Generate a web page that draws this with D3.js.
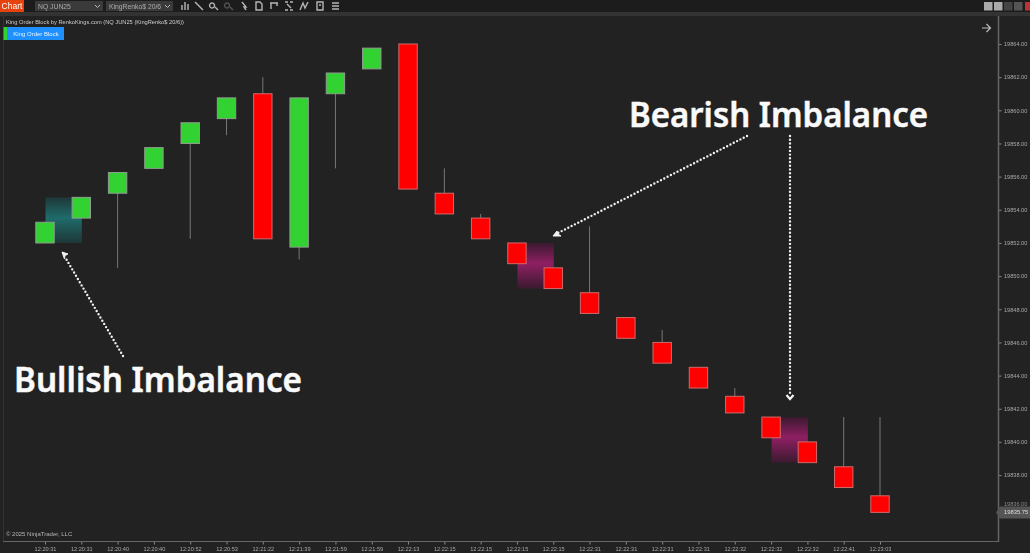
<!DOCTYPE html>
<html><head><meta charset="utf-8">
<script src="https://cdnjs.cloudflare.com/ajax/libs/d3/7.8.5/d3.min.js"></script>
<style>
html,body{margin:0;padding:0;background:#222;overflow:hidden}
svg{display:block}
.tiny{font-family:"Liberation Sans",Arial,sans-serif;filter:url(#soft)}
</style></head><body>
<svg id="c" width="1030" height="553"></svg>
<script>
const times=["12:20:31","12:20:31","12:20:40","12:20:40","12:20:52","12:20:53","12:21:22","12:21:39","12:21:59","12:21:59","12:22:13","12:22:15","12:22:15","12:22:15","12:22:15","12:22:31","12:22:31","12:22:31","12:22:31","12:22:32","12:22:32","12:22:32","12:22:41","12:23:03"];
const opens =[19852,19853.5,19855,19856.5,19858,19859.5,19861,19851.75,19861,19862.5,19864,19855,19853.5,19852,19850.5,19849,19847.5,19846,19844.5,19842.75,19841.5,19840,19838.5,19836.75];
const closes=[19853.25,19854.75,19856.25,19857.75,19859.25,19860.75,19852.25,19860.75,19862.25,19863.75,19855.25,19853.75,19852.25,19850.75,19849.25,19847.75,19846.25,19844.75,19843.25,19841.75,19840.25,19838.75,19837.25,19835.75];
const highs =[19853.25,19854.75,19856.25,19857.75,19859.25,19860.75,19862,19860.75,19862.25,19863.75,19864,19856.5,19853.75,19852,19850.5,19853,19847.5,19846.75,19844.5,19843.25,19841.5,19840,19841.5,19841.5];
const lows  =[19852,19853.5,19850.5,19856.5,19852.25,19858.5,19852.25,19851,19856.5,19862.5,19855.25,19853.75,19852.25,19850.75,19849.25,19847.75,19846.25,19844.75,19843.25,19841.75,19840.25,19838.75,19837.25,19835.75];
const priceTicks=[19864,19862,19860,19858,19856,19854,19852,19850,19848,19846,19844,19842,19840,19838];
const lastPrice=19835.75;
const zoneStart=[0,13,20], zoneEnd=[1,14,21], zoneHigh=[19854.75,19852,19841.5], zoneLow=[19852,19849.25,19838.75], zoneKind=["bull","bear","bear"];

const svg=d3.select("#c");
const defs=svg.append("defs");
defs.append("filter").attr("id","soft").attr("x","-5%").attr("y","-30%").attr("width","110%").attr("height","160%")
  .append("feGaussianBlur").attr("stdDeviation",0.3);
const grad=(id,edge,mid)=>{const g=defs.append("linearGradient").attr("id",id).attr("x1",0).attr("x2",0).attr("y1",0).attr("y2",1);
  [[0,edge],[.45,mid],[1,edge]].forEach(s=>g.append("stop").attr("offset",s[0]).attr("stop-color",s[1]));};
grad("bull","#1f3737","#1f6b6b"); grad("bear","#3a1a2f","#8f1f63");

svg.append("rect").attr("width",1030).attr("height",553).attr("fill","#222");
const x=d3.scalePoint().domain(d3.range(times.length)).range([45,880]);
const y=d3.scaleLinear().domain([19864,19836]).range([44,508.24]);

// toolbar
svg.append("rect").attr("width",1030).attr("height",12).attr("fill","#1c1c1c");
svg.append("rect").attr("y",12).attr("width",1030).attr("height",4).attr("fill","#333");
svg.append("rect").attr("width",24).attr("height",12).attr("fill","#e5420e");
svg.append("text").attr("class","tiny").attr("x",12).attr("y",9).attr("text-anchor","middle").attr("font-size",8.5).attr("fill","#fff").text("Chart");
[[35,103,"NQ JUN25"],[106,173,"KingRenko$ 20/6"]].forEach(d=>{
  svg.append("rect").attr("x",d[0]).attr("y",1).attr("width",d[1]-d[0]).attr("height",10).attr("fill","#3a3a3a");
  svg.append("text").attr("class","tiny").attr("x",d[0]+3).attr("y",8.5).attr("font-size",6.8).attr("fill","#aaa").text(d[2]);
  svg.append("path").attr("d",`M${d[1]-8} 5l2.5 2.5 2.5-2.5`).attr("fill","none").attr("stroke","#bbb").attr("stroke-width",1);
});
const iconX=[185,199,214,229,244,259,274,289,304,320,335];
const icons=["M-3 4V-1M0 4V-4M3 4V-2","M-4-4L4 4","M-2-3a2.5 2.5 0 1 0 .1 0M1 1L4 4","M-2-3a2.5 2.5 0 1 0 .1 0M1 1L4 4","M-2-4L2 1L0 1L2 4","M-3-4H1L3-2V4H-3Z","M-4-3H4M-3-3V3M3-3V0","M-4-4H-1M1-4H4M-4 4H-1M1 4H4M-2-2L2 2","M-4 4L-1-3L1 2L4-4","M-3-4H3V4H-3ZM-1-1H1","M-3-3H4M-3 0H4M-3 3H4"];
iconX.forEach((px,i)=>svg.append("path").attr("transform",`translate(${px},6)`).attr("d",icons[i]).attr("fill","none")
  .attr("stroke",i===3?"#555":"#b5b5b5").attr("stroke-width",1.4));
[[984,"#aaa"],[994,"#aaa"],[1004,"#444"],[1014,"#555"],[1025,"#b33"]].forEach(d=>
  svg.append("rect").attr("x",d[0]).attr("y",2).attr("width",8.5).attr("height",8.5).attr("fill",d[1]));

// frame
svg.append("rect").attr("x",3).attr("y",16).attr("width",1).attr("height",526).attr("fill","#333");

// imbalance zones
svg.append("g").selectAll("rect").data(zoneStart).join("rect")
  .attr("x",(d,i)=>x(d)+.5).attr("width",(d,i)=>x(zoneEnd[i])-x(d))
  .attr("y",(d,i)=>y(zoneHigh[i])).attr("height",(d,i)=>y(zoneLow[i])-y(zoneHigh[i]))
  .attr("fill",(d,i)=>`url(#${zoneKind[i]})`);

// candles
const idx=d3.range(times.length);
svg.append("g").selectAll("line").data(idx).join("line")
  .attr("x1",i=>x(i)).attr("x2",i=>x(i)).attr("y1",i=>y(highs[i])).attr("y2",i=>y(lows[i]))
  .attr("stroke","#777").attr("stroke-width",1);
svg.append("g").selectAll("rect").data(idx).join("rect")
  .attr("x",i=>x(i)-9.2).attr("width",18.4)
  .attr("y",i=>y(Math.max(opens[i],closes[i]))).attr("height",i=>Math.abs(y(opens[i])-y(closes[i])))
  .attr("fill",i=>closes[i]>opens[i]?"#32d232":"#ff0000")
  .attr("stroke",i=>closes[i]>opens[i]?"#8f9f8f":"#d06a6a").attr("stroke-width",1);

// axes
const yAxis=svg.append("g").attr("class","tiny").attr("transform","translate(998.5,0)")
  .call(d3.axisRight(y).tickValues(priceTicks).tickSize(3).tickPadding(2.5).tickFormat(d3.format(".2f")));
yAxis.select(".domain").remove();
svg.append("line").attr("x1",998.5).attr("x2",998.5).attr("y1",16).attr("y2",542).attr("stroke","#666").attr("stroke-width",1.5);
const xAxis=svg.append("g").attr("class","tiny").attr("transform","translate(0,541.5)")
  .call(d3.axisBottom(x).tickSize(3).tickPadding(2.5).tickFormat(i=>times[i]));
xAxis.select(".domain").remove();
svg.append("line").attr("x1",3).attr("x2",999).attr("y1",541.5).attr("y2",541.5).attr("stroke","#666").attr("stroke-width",1);
svg.selectAll("g.tick line").attr("stroke","#888");
svg.selectAll("g.tick text").attr("fill","#a8a8a8").attr("font-size",5.6).attr("font-family","Liberation Sans");

// last price marker
const ly=y(lastPrice);
svg.append("text").attr("class","tiny").attr("x",1004).attr("y",ly-6).attr("font-size",5.6).attr("fill","#888").text("19836.00");
svg.append("path").attr("d",`M996 ${ly}l4-6H1030V${ly+6}H1000Z`).attr("fill","#555");
svg.append("text").attr("class","tiny").attr("x",1004).attr("y",ly+2.1).attr("font-size",5.8).attr("fill","#ddd").text(d3.format(".2f")(lastPrice));

// legend
svg.append("text").attr("class","tiny").attr("x",6).attr("y",23.5).attr("font-size",5.7).attr("fill","#ccc")
  .attr("textLength",178).text("King Order Block by RenkoKings.com (NQ JUN25 (KingRenko$ 20/6))");
svg.append("rect").attr("x",3.5).attr("y",27).attr("width",3.5).attr("height",13).attr("fill","#32d232");
svg.append("rect").attr("x",7).attr("y",27).attr("width",57).attr("height",13).attr("fill","#1e90ff");
svg.append("text").attr("class","tiny").attr("x",36).attr("y",35.7).attr("text-anchor","middle").attr("font-size",6).attr("fill","#e8f4ff").text("King Order Block");
svg.append("text").attr("class","tiny").attr("x",6).attr("y",536).attr("font-size",6).attr("fill","#b5b5b5").text("© 2025 NinjaTrader, LLC");
svg.append("path").attr("d","M982 28H990M986.5 24L990.5 28L986.5 32").attr("fill","none").attr("stroke","#bbb").attr("stroke-width",1.2);

// annotations
const dotted=(x1,y1,x2,y2,w)=>svg.append("line").attr("x1",x1).attr("y1",y1).attr("x2",x2).attr("y2",y2)
  .attr("stroke","#f0f0f0").attr("stroke-width",w).attr("stroke-linecap","round").attr("stroke-dasharray",`0 ${w*1.55}`);
dotted(123,356,65,257,2.4);
dotted(747,136,558,233,2.4);
dotted(790,136,790,394,2.4);
svg.append("path").attr("d","M62 252L68 254L65 255.5L64.5 259Z").attr("fill","#f2f2f2").attr("stroke","#f2f2f2");
svg.append("path").attr("d","M553 236L557 231L558 234L561 236Z").attr("fill","#f2f2f2").attr("stroke","#f2f2f2");
svg.append("path").attr("d","M786.5 395L790 399L793.5 395").attr("fill","none").attr("stroke","#f5f5f5").attr("stroke-width",2.2);
const big=(tx,ty,len,s)=>svg.append("text").attr("x",tx).attr("y",ty).attr("font-family","'Noto Sans','Open Sans',sans-serif")
  .attr("font-weight",600).attr("font-size",34.5).attr("fill","#fafafa").attr("stroke","#fafafa").attr("stroke-width",0.5)
  .attr("textLength",len).attr("lengthAdjust","spacingAndGlyphs").text(s);
big(14,392,288,"Bullish Imbalance");
big(629,127,299,"Bearish Imbalance");
</script>
</body></html>
